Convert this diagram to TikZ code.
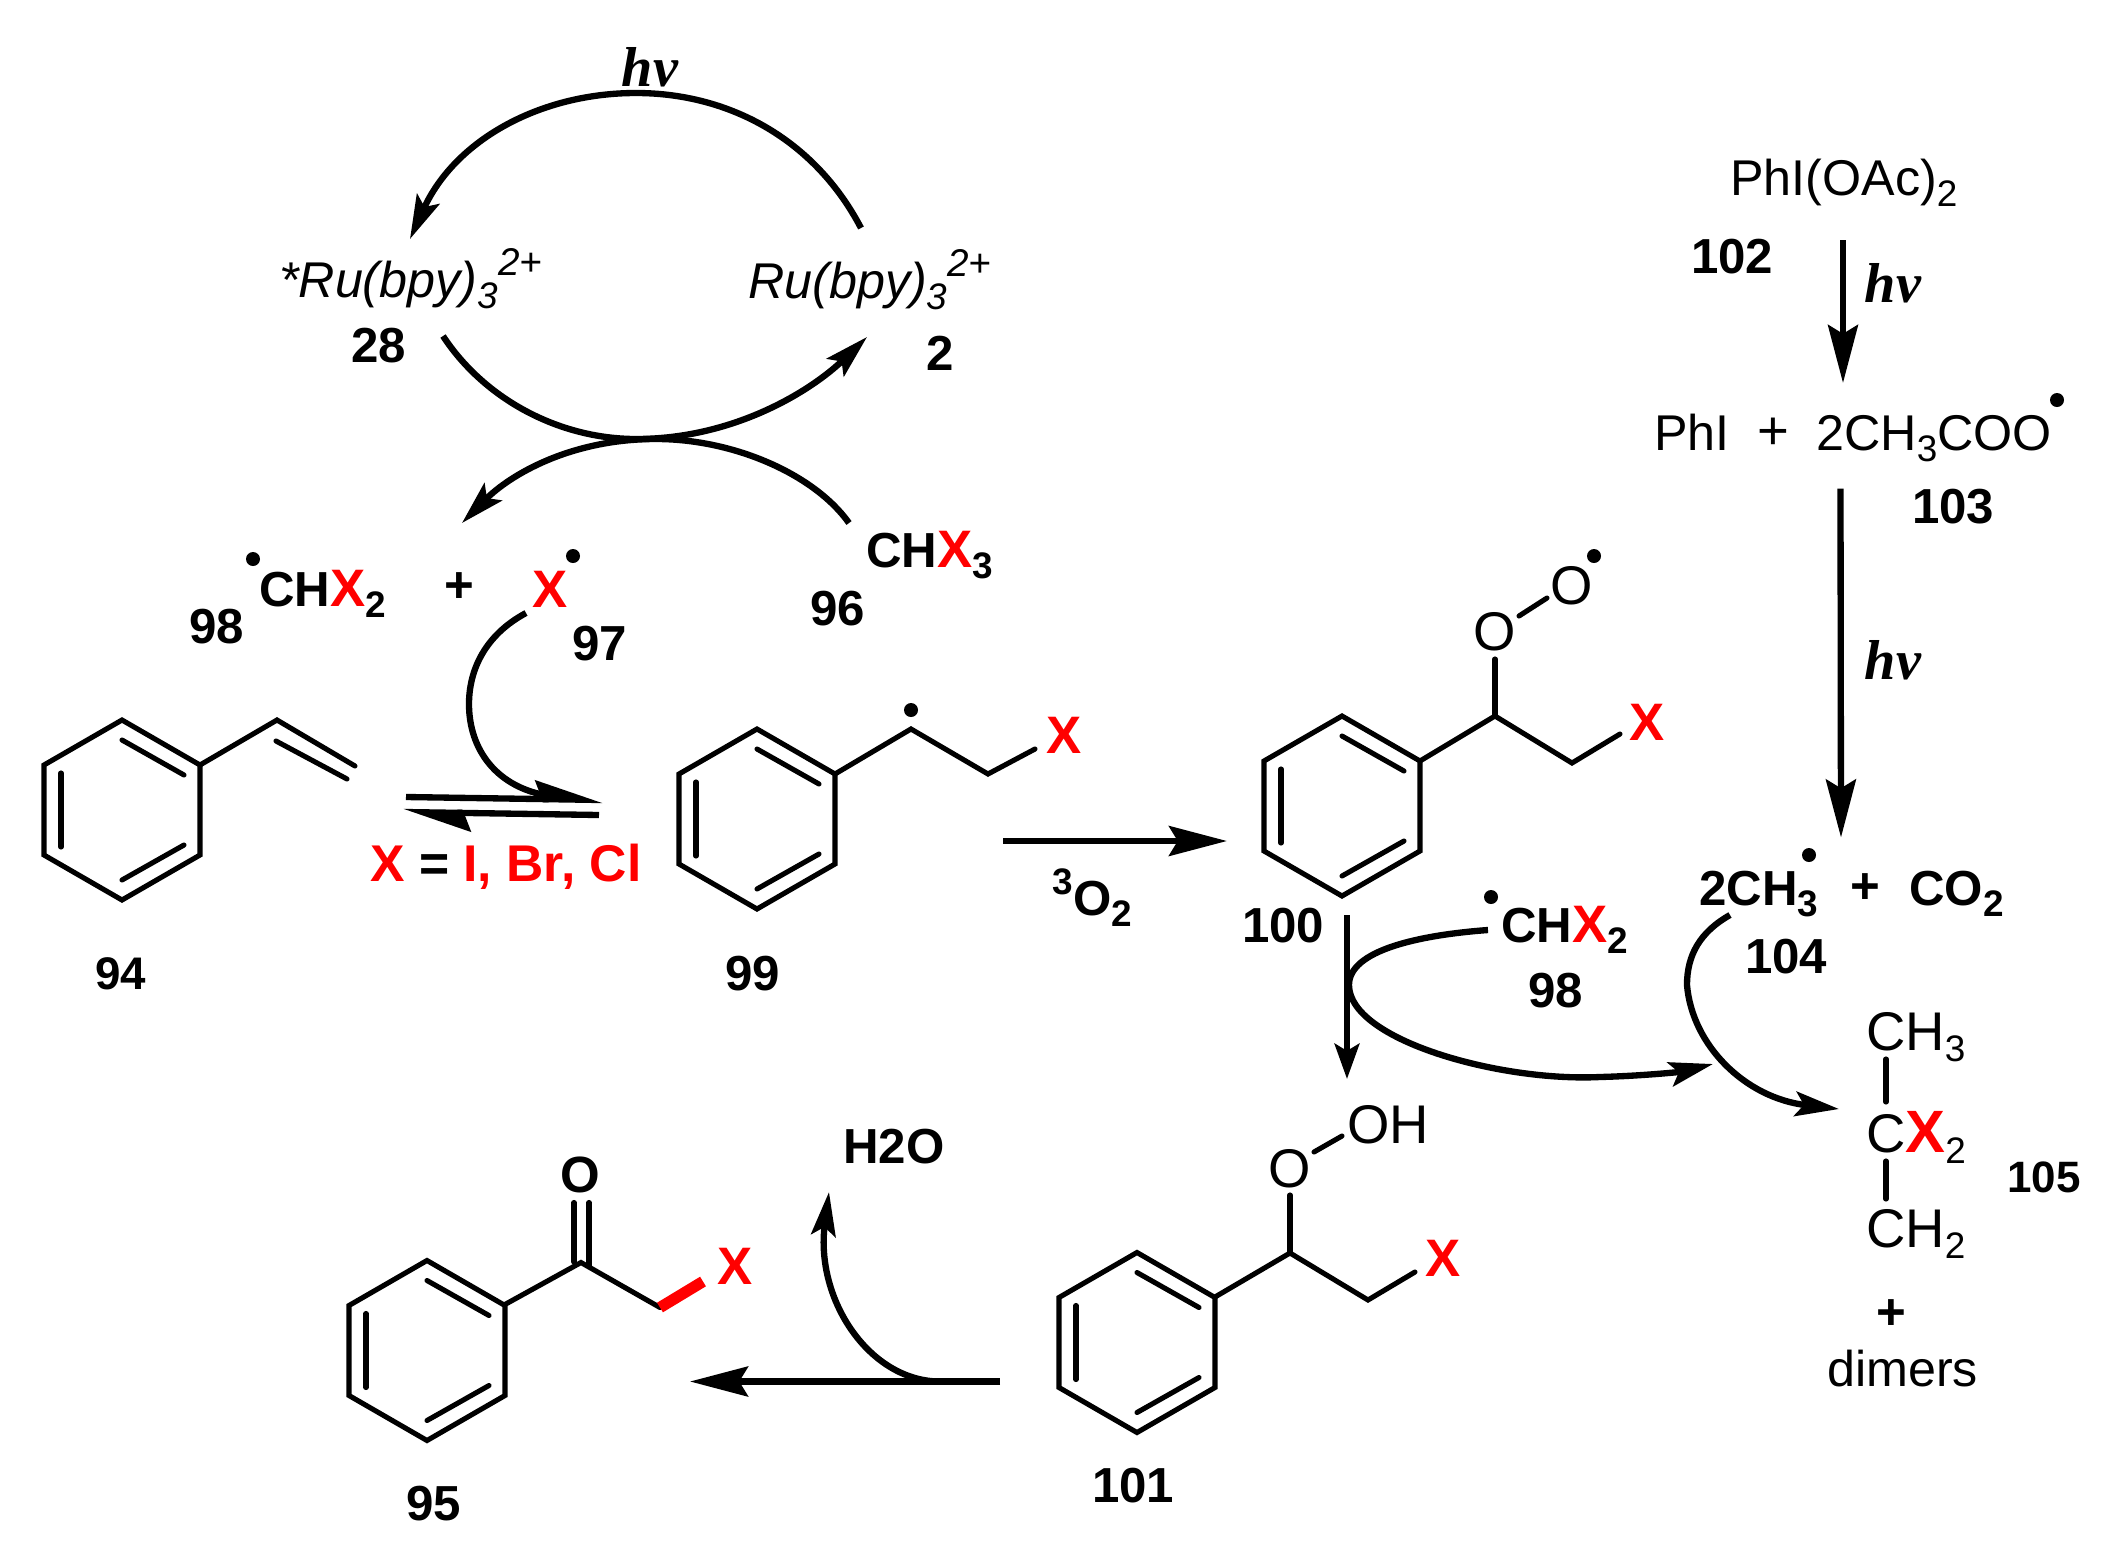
\documentclass[tikz,border=0pt]{standalone}
\usepackage{fontspec}
\setmainfont{Liberation Sans}
\newfontfamily\hvfont{Liberation Serif}
\usetikzlibrary{arrows.meta}
\newcommand{\dn}[1]{\raisebox{-3.2pt}{\fontsize{10.5}{11}\selectfont #1}}
\newcommand{\up}[1]{\raisebox{6pt}{\fontsize{11}{11}\selectfont #1}}
\newcommand{\redx}{\textcolor{red}{\fontsize{15}{16}\selectfont\textbf{X}}}
\tikzset{
	bigtip/.tip={Stealth[length=16.5pt,width=8.5pt,inset=2.5pt]},
	smalltip/.tip={Stealth[length=12.5pt,width=7pt,inset=2.5pt]},
	halftip/.tip={Stealth[harpoon,length=16.5pt,width=10.5pt,inset=2pt]},
	txt/.style={anchor=base west, inner sep=0pt, xshift=-0.25mm, font=\fontsize{14.3}{16}\selectfont},
	atom/.style={txt, font=\fontsize{15.5}{17}\selectfont},
	bold/.style={txt, font=\fontsize{14}{16}\selectfont\bfseries},
	label/.style={bold},
	mid/.style={anchor=center, inner sep=0pt, font=\fontsize{15.5}{17}\selectfont},
	midbold/.style={mid, font=\fontsize{14.5}{16}\selectfont\bfseries},
	hv/.style={anchor=center, inner sep=0pt, font=\fontsize{16}{18}\selectfont\hvfont\bfseries\itshape},
	radical/.style={circle, fill=black, inner sep=0pt, minimum size=0.14cm},
	bond/.style={line width=1.45pt, line cap=round, line join=miter},
	react/.style={line width=1.8pt},
	phenyl/.pic={
		\draw[bond] (0,-0.9) -- (0.78,-0.45) -- (0.78,0.45) -- (0,0.9) -- (-0.78,0.45) -- (-0.78,-0.45) -- cycle;
		\draw[bond] (-0.61,-0.37) -- (-0.61,0.37);
		\draw[bond] (0,-0.70) -- (0.62,-0.35);
		\draw[bond] (0,0.70) -- (0.62,0.35);
	}
}
\begin{document}
\begin{tikzpicture}[y=-1cm]
	\useasboundingbox (0,0) rectangle (21.03,15.64);

	% ruthenium cycle
	\node (hvA) at (6.50, 0.67) [hv] {hv};
	\node (Ru28) at (2.81, 2.97) [txt] {\itshape *Ru(bpy)\dn{3}\up{2+}};
	\node (Ru2) at (7.50, 2.98) [txt] {\itshape Ru(bpy)\dn{3}\up{2+}};
	\node (n28) at (3.53, 3.62) [label] {28};
	\node (n2) at (9.28, 3.70) [label] {2};
	\node (CHX3) at (8.68, 5.67) [bold] {CH\redx\dn{3}};
	\node (n96) at (8.12, 6.25) [label] {96};
	\node (CHX2a) at (2.61, 6.06) [bold] {CH\redx\dn{2}};
	\node (dotA) at (2.53, 5.59) [radical] {};
	\node (n98a) at (1.91, 6.43) [label] {98};
	\node (plusA) at (4.59, 5.88) [midbold] {+};
	\node (Xrad) at (5.34, 6.07) [bold] {\redx};
	\node (dotB) at (5.73, 5.56) [radical] {};
	\node (n97) at (5.74, 6.60) [label] {97};

	\coordinate (cyA) at (8.61, 2.28);
	\coordinate (cyB) at (4.10, 2.39);
	\coordinate (cyC) at (4.43, 3.36);
	\coordinate (cyD) at (8.67, 3.37);
	\coordinate (cyE) at (8.49, 5.23);
	\coordinate (cyF) at (4.62, 5.23);
	\draw[react, -smalltip] (cyA) .. controls (8.15, 1.40) and (7.30, 0.93) .. (6.36, 0.93)
		.. controls (5.40, 0.93) and (4.55, 1.40) .. (cyB);
	\draw[react, -smalltip] (cyC) .. controls (4.85, 4.00) and (5.60, 4.39) .. (6.36, 4.39)
		.. controls (7.35, 4.39) and (8.12, 3.90) .. (cyD);
	\draw[react, -smalltip] (cyE) .. controls (8.15, 4.75) and (7.35, 4.39) .. (6.56, 4.39)
		.. controls (5.70, 4.39) and (5.10, 4.75) .. (cyF);

	% styrene
	\pic at (1.22, 8.10) {phenyl};
	\draw[bond] (2.00, 7.65) -- (2.77, 7.20) -- (3.55, 7.66);
	\draw[bond] (2.76, 7.41) -- (3.47, 7.79);
	\node (n94) at (0.97, 9.89) [label, font=\fontsize{13}{15}\selectfont\bfseries] {94};

	% equilibrium
	\coordinate (eqA) at (4.06, 7.97);
	\coordinate (eqB) at (6.03, 8.00);
	\coordinate (eqC) at (5.99, 8.15);
	\coordinate (eqD) at (4.03, 8.12);
	\coordinate (curX) at (5.26, 6.13);
	\draw[react, -halftip] (eqA) -- (eqB);
	\draw[react, -halftip] (eqC) -- (eqD);
	\draw[react] (curX) .. controls (4.85, 6.35) and (4.69, 6.70) .. (4.69, 7.04)
		.. controls (4.69, 7.50) and (4.97, 7.88) .. (5.50, 7.96);
	\node (eqlabel) at (3.72, 8.815) [bold, font=\fontsize{14.7}{16}\selectfont\bfseries] {\textcolor{red}{X} = \textcolor{red}{I, Br, Cl}};

	% benzylic radical
	\pic at (7.57, 8.19) {phenyl};
	\draw[bond] (8.35, 7.74) -- (9.11, 7.29) -- (9.88, 7.74) -- (10.35, 7.49);
	\node (dotC) at (9.11, 7.10) [radical] {};
	\node (X99) at (10.48, 7.53) [bold] {\redx};
	\node (n99) at (7.27, 9.90) [label] {99};

	% to the peroxyl radical
	\coordinate (oxA) at (10.03, 8.41);
	\coordinate (oxB) at (12.27, 8.41);
	\draw[react, -bigtip] (oxA) -- (oxB);
	\node (sup3) at (10.54, 8.94) [bold, font=\fontsize{10.5}{11}\selectfont\bfseries] {3};
	\node (O2) at (10.75, 9.15) [bold] {O\dn{2}};

	% peroxyl radical
	\pic at (13.42, 8.06) {phenyl};
	\draw[bond] (14.20, 7.61) -- (14.95, 7.16) -- (15.72, 7.63) -- (16.20, 7.34);
	\node (X100) at (16.31, 7.40) [bold] {\redx};
	\node (Oa) at (14.95, 6.32) [mid] {O};
	\node (Ob) at (15.72, 5.86) [mid] {O};
	\node (dotD) at (15.94, 5.56) [radical] {};
	\draw[bond] (14.95, 7.16) -- (14.95, 6.59);
	\draw[bond] (15.19, 6.16) -- (15.47, 5.98);
	\node (n100) at (12.44, 9.42) [label] {100};

	% to the hydroperoxide
	\coordinate (hpA) at (13.47, 9.15);
	\coordinate (hpB) at (13.47, 10.79);
	\draw[react, -{Stealth[length=10pt,width=7pt,inset=2pt]}] (hpA) -- (hpB);
	\node (CHX2b) at (15.03, 9.42) [bold] {CH\redx\dn{2}};
	\node (dotE) at (14.91, 8.97) [radical] {};
	\node (n98b) at (15.30, 10.07) [label] {98};
	\coordinate (swA) at (14.88, 9.30);
	\coordinate (swB) at (17.13, 10.64);
	\draw[react, -smalltip] (swA) .. controls (14.20, 9.35) and (13.49, 9.50) .. (13.49, 9.85)
		.. controls (13.49, 10.40) and (15.00, 10.82) .. (16.00, 10.77)
		.. controls (16.40, 10.76) and (16.80, 10.72) .. (swB);

	% hydroperoxide
	\pic at (11.37, 13.425) {phenyl};
	\draw[bond] (12.15, 12.97) -- (12.90, 12.53) -- (13.68, 13.00) -- (14.15, 12.72);
	\node (X101) at (14.27, 12.76) [bold] {\redx};
	\node (Oc) at (12.90, 11.69) [mid] {O};
	\node (OH) at (13.49, 11.435) [atom] {OH};
	\draw[bond] (12.90, 12.53) -- (12.90, 11.95);
	\draw[bond] (13.14, 11.52) -- (13.42, 11.36);
	\node (n101) at (10.94, 15.025) [label] {101};

	% to the ketone
	\coordinate (ketA) at (10.00, 13.815);
	\coordinate (ketB) at (6.90, 13.815);
	\coordinate (watA) at (9.40, 13.815);
	\coordinate (watB) at (8.29, 11.92);
	\draw[react, -bigtip] (ketA) -- (ketB);
	\draw[react, -smalltip] (watA) .. controls (8.70, 13.815) and (8.15, 13.00) .. (watB);
	\node (H2O) at (8.45, 11.635) [bold] {H2O};

	% ketone
	\pic at (4.27, 13.505) {phenyl};
	\draw[bond] (5.04, 13.05) -- (5.81, 12.625) -- (6.60, 13.075);
	\draw[line width=3.2pt, red] (6.60, 13.075) -- (7.03, 12.815);
	\node (X95) at (7.19, 12.84) [bold] {\redx};
	\node (Od) at (5.80, 11.75) [midbold] {O};
	\draw[bond] (5.74, 12.025) -- (5.74, 12.62);
	\draw[bond] (5.89, 12.025) -- (5.89, 12.66);
	\node (n95) at (4.08, 15.20) [label] {95};

	% acetoxy route
	\node (PhIOAc) at (17.32, 1.955) [txt] {PhI(OAc)\dn{2}};
	\node (n102) at (16.93, 2.735) [label] {102};
	\coordinate (acA) at (18.43, 2.40);
	\coordinate (acB) at (18.43, 3.83);
	\draw[react, -bigtip] (acA) -- (acB);
	\node (hvB) at (18.93, 2.835) [hv] {hv};
	\node (PhI) at (16.56, 4.50) [txt] {PhI};
	\node (plusB) at (17.73, 4.34) [mid] {+};
	\node (acetoxy) at (18.18, 4.50) [txt] {2CH\dn{3}COO};
	\node (dotF) at (20.57, 4.00) [radical] {};
	\node (n103) at (19.14, 5.23) [label] {103};
	\coordinate (meA) at (18.405, 4.885);
	\coordinate (meB) at (18.41, 8.375);
	\draw[react, -bigtip] (meA) -- (meB);
	\node (hvC) at (18.93, 6.605) [hv] {hv};
	\node (CH3rad) at (17.01, 9.05) [bold] {2CH\dn{3}};
	\node (dotG) at (18.09, 8.55) [radical] {};
	\node (plusC) at (18.65, 8.89) [midbold] {+};
	\node (CO2) at (19.11, 9.05) [bold] {CO\dn{2}};
	\node (n104) at (17.47, 9.73) [label] {104};

	% coupling product
	\coordinate (cpA) at (17.30, 9.15);
	\coordinate (cpB) at (18.39, 11.09);
	\draw[react, -smalltip] (cpA) .. controls (17.00, 9.32) and (16.87, 9.55) .. (16.87, 9.85)
		.. controls (16.92, 10.45) and (17.45, 10.98) .. (cpB);
	\node (CH3) at (18.68, 10.50) [atom] {CH\dn{3}};
	\node (CX2) at (18.68, 11.52) [atom] {C\textcolor{red}{\fontsize{17}{18}\selectfont\textbf{X}}\dn{2}};
	\node (CH2) at (18.68, 12.47) [atom] {CH\dn{2}};
	\draw[bond] (18.86, 10.59) -- (18.86, 11.02);
	\draw[bond] (18.86, 11.61) -- (18.86, 11.99);
	\node (n105) at (20.09, 11.92) [label, font=\fontsize{12.5}{14}\selectfont\bfseries] {105};
	\node (plusD) at (18.91, 13.15) [midbold] {+};
	\node (dimers) at (18.29, 13.86) [txt] {dimers};
\end{tikzpicture}
\end{document}
